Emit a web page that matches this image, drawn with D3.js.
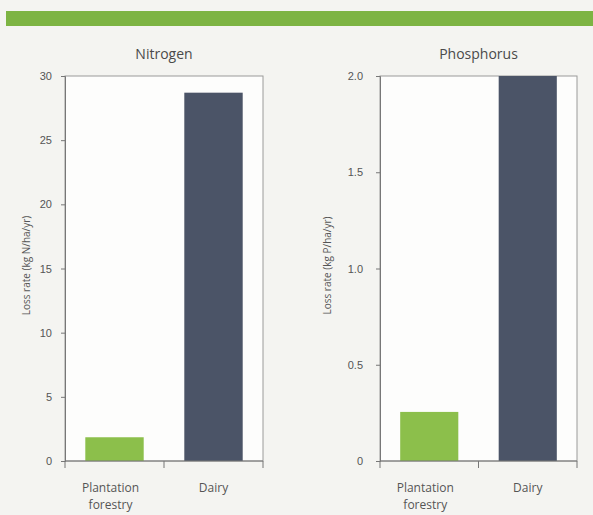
<!DOCTYPE html>
<html>
<head>
<meta charset="utf-8">
<script src="https://cdn.jsdelivr.net/npm/d3@7"></script>
<style>
  body { margin: 0; background: #f4f4f1; }
  svg { display: block; font-family: "Open Sans", "DejaVu Sans", sans-serif; }
</style>
</head>
<body>
<div id="wrapper"></div>
<script>
// data
const categories = ["Plantation forestry", "Dairy"]
const nitrogenValues = [1.85, 28.7]
const phosphorusValues = [0.255, 2.0]
const nitrogenTicks = [0, 5, 10, 15, 20, 25, 30]
const phosphorusTicks = [0, 0.5, 1.0, 1.5, 2.0]

const barColors = ["#8cbf4b", "#4b5467"]

const width = 593
const height = 515

const svg = d3.select("#wrapper")
  .append("svg")
  .attr("width", width)
  .attr("height", height)

svg.append("rect")
  .attr("width", width).attr("height", height)
  .attr("fill", "#f4f4f1")

// green band across the top
svg.append("rect")
  .attr("x", 6).attr("y", 11)
  .attr("width", width - 6).attr("height", 15)
  .attr("fill", "#7db443")

const drawPanel = (opts) => {
  const { title, values, ticks, yMax, left, right, top, bottom, unit, fmt, labelPad, labelX } = opts

  const g = svg.append("g")

  const xOuter = d3.scaleBand().domain(categories).range([left, right])
  const x = d3.scaleBand()
    .domain(categories)
    .range([left, right])
    .paddingInner(0.41)
    .paddingOuter(0.205)
  const y = d3.scaleLinear().domain([0, yMax]).range([bottom, top])

  // plot area
  g.append("rect")
    .attr("x", left).attr("y", top)
    .attr("width", right - left).attr("height", bottom - top)
    .attr("fill", "#fdfdfc")
    .attr("stroke", "#9a9a9a")
    .attr("stroke-width", 1)

  // bars
  g.selectAll(".bar")
    .data(values)
    .join("rect")
    .attr("class", "bar")
    .attr("x", (d, i) => x(categories[i]))
    .attr("width", x.bandwidth())
    .attr("y", (d) => y(d))
    .attr("height", (d) => y(0) - y(d))
    .attr("fill", (d, i) => barColors[i])

  // y axis
  const yAxis = g.append("g")
    .attr("transform", `translate(${left},0)`)
    .call(d3.axisLeft(y).tickValues(ticks).tickSize(4).tickPadding(labelPad).tickFormat(fmt))
  yAxis.select(".domain").attr("stroke", "#777")
  yAxis.selectAll(".tick line").attr("stroke", "#777")
  yAxis.selectAll(".tick text")
    .attr("fill", "#555")
    .style("font-size", "11px")

  // x axis line and boundary ticks
  g.append("line")
    .attr("x1", left).attr("x2", right)
    .attr("y1", bottom).attr("y2", bottom)
    .attr("stroke", "#777")
  const bounds = categories.map((c) => xOuter(c)).concat([right])
  g.selectAll(".xtick")
    .data(bounds)
    .join("line")
    .attr("class", "xtick")
    .attr("x1", (d) => d).attr("x2", (d) => d)
    .attr("y1", bottom).attr("y2", bottom + 7)
    .attr("stroke", "#777")

  // category labels
  categories.forEach((c, i) => {
    const words = c.split(" ")
    const t = g.append("text")
      .attr("x", x(c) + x.bandwidth() / 2)
      .attr("y", bottom + 31)
      .attr("text-anchor", "middle")
      .attr("fill", "#555")
      .style("font-size", "12px")
    words.forEach((w, j) => {
      t.append("tspan")
        .attr("x", x(c) + x.bandwidth() / 2 - (i === 0 ? 4 : 0))
        .attr("dy", j === 0 ? 0 : 17)
        .text(w)
    })
  })

  // title
  g.append("text")
    .attr("x", (left + right) / 2)
    .attr("y", 59)
    .attr("text-anchor", "middle")
    .attr("fill", "#4a4a4a")
    .style("font-size", "14px")
    .text(title)

  // y label
  g.append("text")
    .attr("transform", `translate(${labelX},${(top + bottom) / 2 - 3}) rotate(-90)`)
    .attr("text-anchor", "middle")
    .attr("fill", "#555")
    .style("font-size", "10px")
    .text(`Loss rate (kg ${unit}/ha/yr)`)
}

drawPanel({
  title: "Nitrogen",
  values: nitrogenValues,
  ticks: nitrogenTicks,
  yMax: 30,
  left: 65, right: 263, top: 76, bottom: 461,
  unit: "N",
  fmt: d3.format("d"),
  labelPad: 9,
  labelX: 30,
})

drawPanel({
  title: "Phosphorus",
  values: phosphorusValues,
  ticks: phosphorusTicks,
  yMax: 2,
  left: 380, right: 577, top: 76, bottom: 461,
  unit: "P",
  fmt: (d) => (d === 0 ? "0" : d3.format(".1f")(d)),
  labelPad: 13,
  labelX: 331,
})
</script>
</body>
</html>
